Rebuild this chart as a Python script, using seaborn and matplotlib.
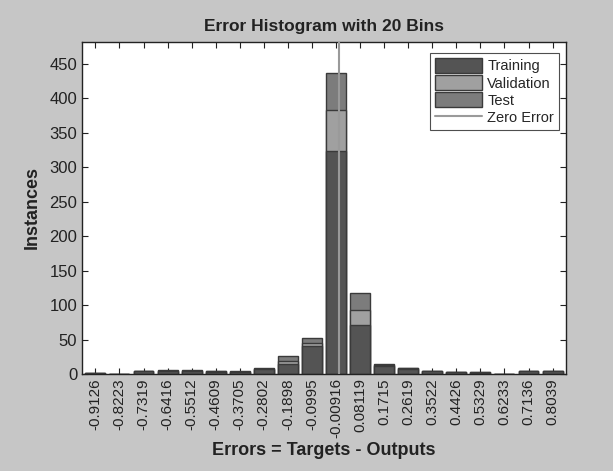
import numpy as np
import pandas as pd
import matplotlib
matplotlib.use("Agg")
import matplotlib.pyplot as plt
from matplotlib.patches import Patch
from matplotlib.lines import Line2D
import seaborn as sns

# bin centres (errors) and counts per data split
bin_centers = [-0.9126, -0.8223, -0.7319, -0.6416, -0.5512, -0.4609, -0.3705,
               -0.2802, -0.1898, -0.0995, -0.00916, 0.08119, 0.1715, 0.2619,
               0.3522, 0.4426, 0.5329, 0.6233, 0.7136, 0.8039]
bin_labels = ["-0.9126", "-0.8223", "-0.7319", "-0.6416", "-0.5512", "-0.4609",
              "-0.3705", "-0.2802", "-0.1898", "-0.0995", "-0.00916", "0.08119",
              "0.1715", "0.2619", "0.3522", "0.4426", "0.5329", "0.6233",
              "0.7136", "0.8039"]
training = [2, 0, 4, 5, 5, 3, 3, 7, 14, 41, 323, 71, 11, 7, 4, 3, 2, 0, 4, 4]
validation = [0, 0, 0, 0, 0, 1, 0, 0, 5, 4, 60, 22, 2, 1, 0, 0, 1, 0, 0, 0]
test = [0, 0, 1, 1, 1, 0, 1, 1, 7, 7, 54, 25, 2, 0, 1, 0, 0, 0, 1, 1]

c_train = "#545454"
c_val = "#a0a0a0"
c_test = "#7c7c7c"
c_edge = "#3a3a3a"
c_zero = "#9a9a9a"

df = pd.DataFrame({
    "bin": bin_labels,
    "train": training,
    "val": validation,
    "test": test,
})
df["train_val"] = df["train"] + df["val"]
df["total"] = df["train_val"] + df["test"]

sns.set_style("white")
plt.rcParams["font.family"] = ["Liberation Sans", "DejaVu Sans"]

fig = plt.figure(figsize=(6.13, 4.71), dpi=100)
fig.patch.set_facecolor("#c6c6c6")
ax = fig.add_axes([0.134, 0.206, 0.789, 0.705])
ax.set_facecolor("white")

# stacked bars: draw cumulative totals from the top down
for col, color in [("total", c_test), ("train_val", c_val), ("train", c_train)]:
    sns.barplot(data=df, x="bin", y=col, order=bin_labels, color=color,
                saturation=1, width=0.83, edgecolor=c_edge, linewidth=1.0, ax=ax)

# zero error line, placed on the categorical axis
step = bin_centers[1] - bin_centers[0]
zero_pos = (0 - bin_centers[0]) / step
ax.axvline(zero_pos, color=c_zero, linewidth=1.5, zorder=5)

ax.set_xlim(-0.55, len(bin_labels) - 0.45)
ax.set_ylim(0, 482)
ax.set_yticks(np.arange(0, 451, 50))
ax.tick_params(axis="x", rotation=90, labelsize=11, colors="#222222",
               direction="in", length=4, top=True, bottom=True, pad=3)
ax.tick_params(axis="y", labelsize=12, colors="#222222",
               direction="in", length=4, left=True, right=True)
for s in ax.spines.values():
    s.set_color("#222222")
    s.set_linewidth(1.0)

ax.set_title("Error Histogram with 20 Bins", fontsize=12.5, fontweight="bold",
             color="#222222", pad=8)
ax.set_xlabel("Errors = Targets - Outputs", fontsize=13, fontweight="bold",
              color="#222222", labelpad=3)
ax.set_ylabel("Instances", fontsize=13, fontweight="bold", color="#222222",
              labelpad=6)

handles = [
    Patch(facecolor=c_train, edgecolor=c_edge, label="Training"),
    Patch(facecolor=c_val, edgecolor=c_edge, label="Validation"),
    Patch(facecolor=c_test, edgecolor=c_edge, label="Test"),
    Line2D([0], [0], color=c_zero, linewidth=1.5, label="Zero Error"),
]
leg = ax.legend(handles=handles, loc="upper right", fontsize=10.5,
                frameon=True, fancybox=False, edgecolor="#222222",
                handlelength=3.2, handleheight=1.2, labelspacing=0.12,
                borderaxespad=0.3, handletextpad=0.35, borderpad=0.35,
                bbox_to_anchor=(0.995, 0.98))
leg.get_frame().set_linewidth(0.8)

fig.savefig("out.png", dpi=100, facecolor=fig.get_facecolor())
